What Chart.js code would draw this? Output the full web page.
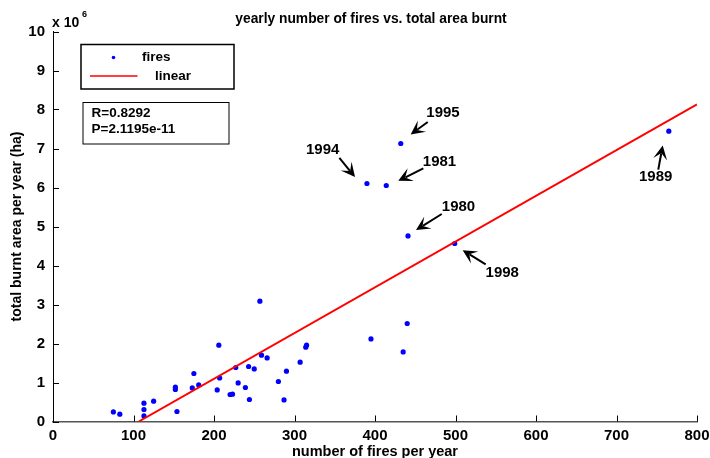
<!DOCTYPE html>
<html><head><meta charset="utf-8">
<script src="https://cdn.jsdelivr.net/npm/chart.js@4"></script>
<style>html,body{margin:0;padding:0;background:#fff}</style>
</head><body>
<canvas id="c" width="710" height="458"></canvas>
<script>
// number of fires per year
const fires = [75, 83, 113, 113, 113, 125, 154, 152, 152, 173, 175, 181, 204, 206, 207, 227, 220, 223, 230, 239, 244, 243, 250, 257, 259, 266, 280, 287, 290, 307, 314, 315, 395, 440, 435, 432, 390, 414, 441, 499, 765];
// total burnt area per year (ha)
const burnt = [246000, 187000, 469000, 308000, 144000, 520000, 256000, 879000, 821000, 862000, 1231000, 938000, 810000, 1956000, 1118000, 1385000, 692000, 700000, 990000, 872000, 564000, 1410000, 1349000, 3085000, 1700000, 1631000, 1026000, 554000, 1290000, 1521000, 1905000, 1956000, 2118000, 2513000, 1785000, 7128000, 6103000, 6051000, 4759000, 4564000, 7444000];
// linear fit endpoints
const fitX = [106.5, 800];
const fitY = [0, 8130000];
// axis ticks
const xTicks = [0, 100, 200, 300, 400, 500, 600, 700, 800];
const yTicks = [0, 1e6, 2e6, 3e6, 4e6, 5e6, 6e6, 7e6, 8e6, 9e6, 1e7];
// annotated years
const annYears = ['1995', '1994', '1981', '1980', '1998', '1989'];
const annTextX = [484.5, 335, 480.1, 503.7, 558.1, 748.7];
const annTextY = [7.91e6, 6.96e6, 6.67e6, 5.50e6, 3.82e6, 6.27e6];
const annFromX = [465.5, 355.7, 460, 482.9, 537.5, 751.9];
const annFromY = [7.68e6, 6.76e6, 6.49e6, 5.32e6, 4.03e6, 6.46e6];
const annTipX = [444.3, 375.2, 428.9, 450.9, 508.9, 757.4];
const annTipY = [7.36e6, 6.27e6, 6.17e6, 4.91e6, 4.39e6, 7.08e6];
const statR = 'R=0.8292';
const statP = 'P=2.1195e-11';

const FONT = '"Liberation Sans", Arial, Helvetica, sans-serif';

function arrow(ctx, x1, y1, x2, y2) {
  const ang = Math.atan2(y2 - y1, x2 - x1);
  const L = 14, W = 7;
  ctx.save();
  ctx.strokeStyle = '#000'; ctx.fillStyle = '#000'; ctx.lineWidth = 2;
  ctx.beginPath();
  ctx.moveTo(x1, y1);
  ctx.lineTo(x2 - Math.cos(ang) * 8, y2 - Math.sin(ang) * 8);
  ctx.stroke();
  ctx.translate(x2, y2); ctx.rotate(ang);
  ctx.beginPath();
  ctx.moveTo(0, 0);
  ctx.lineTo(-L, -W);
  ctx.lineTo(-L * 0.55, 0);
  ctx.lineTo(-L, W);
  ctx.closePath();
  ctx.fill();
  ctx.restore();
}

const deco = {
  id: 'deco',
  afterDraw(chart) {
    const ctx = chart.ctx, xs = chart.scales.x, ys = chart.scales.y;
    const a = chart.chartArea;
    ctx.save();
    // inward ticks
    ctx.strokeStyle = '#000'; ctx.lineWidth = 1;
    xTicks.forEach(v => {
      const p = Math.round(xs.getPixelForValue(v)) + 0.5;
      ctx.beginPath(); ctx.moveTo(p, a.bottom); ctx.lineTo(p, a.bottom - 6); ctx.stroke();
    });
    yTicks.forEach(v => {
      const p = Math.round(ys.getPixelForValue(v)) + 0.5;
      ctx.beginPath(); ctx.moveTo(a.left, p); ctx.lineTo(a.left + 6, p); ctx.stroke();
    });
    // title
    ctx.fillStyle = '#000';
    ctx.font = 'bold 13.8px ' + FONT;
    ctx.textAlign = 'center'; ctx.textBaseline = 'middle';
    ctx.fillText('yearly number of fires vs. total area burnt', 371, 19);
    // multiplier
    ctx.textAlign = 'left';
    ctx.font = 'bold 14px ' + FONT;
    ctx.fillText('x 10', 52, 23);
    ctx.font = 'bold 9px ' + FONT;
    ctx.fillText('6', 82, 15);
    // legend box
    ctx.lineWidth = 1.5; ctx.strokeStyle = '#000';
    ctx.fillStyle = '#fff';
    ctx.fillRect(81, 44.5, 153, 44.5);
    ctx.strokeRect(81, 44.5, 153, 44.5);
    ctx.fillStyle = '#0000ff';
    ctx.beginPath(); ctx.arc(113.5, 57.5, 1.8, 0, Math.PI * 2); ctx.fill();
    ctx.strokeStyle = '#ff0000'; ctx.lineWidth = 1.5;
    ctx.beginPath(); ctx.moveTo(90, 76); ctx.lineTo(137.5, 76); ctx.stroke();
    ctx.fillStyle = '#000';
    ctx.font = 'bold 13.5px ' + FONT;
    ctx.textBaseline = 'middle';
    ctx.fillText('fires', 142, 57);
    ctx.fillText('linear', 155, 76);
    // stats box
    ctx.strokeStyle = '#000'; ctx.lineWidth = 1;
    ctx.strokeRect(83, 102.5, 146, 41.5);
    ctx.fillText(statR, 91.5, 113.5);
    ctx.fillText(statP, 91.5, 129);
    // annotations
    ctx.font = 'bold 15px ' + FONT;
    ctx.textAlign = 'center';
    annYears.forEach((t, i) => {
      ctx.fillStyle = '#000';
      ctx.fillText(t, xs.getPixelForValue(annTextX[i]), ys.getPixelForValue(annTextY[i]));
      arrow(ctx, xs.getPixelForValue(annFromX[i]), ys.getPixelForValue(annFromY[i]),
                 xs.getPixelForValue(annTipX[i]), ys.getPixelForValue(annTipY[i]));
    });
    ctx.restore();
  }
};

new Chart(document.getElementById('c'), {
  type: 'scatter',
  data: {
    datasets: [
      {
        label: 'fires',
        data: fires.map((x, i) => ({ x, y: burnt[i] })),
        pointRadius: 2.6, pointHoverRadius: 2.6,
        backgroundColor: '#0000ff', borderWidth: 0, order: 2
      },
      {
        label: 'linear', type: 'line',
        data: fitX.map((x, i) => ({ x, y: fitY[i] })),
        borderColor: '#ff0000', borderWidth: 2, pointRadius: 0, fill: false, order: 1
      }
    ]
  },
  options: {
    responsive: false, animation: false, events: [],
    layout: { padding: { top: 31.5, right: 13, left: 0, bottom: 0 } },
    plugins: { legend: { display: false }, tooltip: { enabled: false }, title: { display: false } },
    scales: {
      x: {
        type: 'linear', min: 0, max: 800,
        afterBuildTicks(s) { s.ticks = xTicks.map(v => ({ value: v })); },
        ticks: { color: '#000', padding: 5, font: { family: FONT, size: 15, weight: 'bold' }, maxRotation: 0 },
        grid: { display: true, drawOnChartArea: false, drawTicks: false },
        border: { display: true, color: '#555', width: 1.5 },
        title: { display: true, text: 'number of fires per year', color: '#000', padding: 0, font: { family: FONT, size: 14.5, weight: 'bold', lineHeight: 0.8 } },
        afterFit(s) { s.height = 36.5; s.paddingLeft = 0; s.paddingRight = 0; }
      },
      y: {
        type: 'linear', min: 0, max: 1e7,
        afterBuildTicks(s) { s.ticks = yTicks.map(v => ({ value: v })); },
        ticks: { color: '#000', padding: 8, font: { family: FONT, size: 15, weight: 'bold' }, callback: v => String(v / 1e6) },
        grid: { display: true, drawOnChartArea: false, drawTicks: false },
        border: { display: true, color: '#000', width: 1 },
        title: { display: true, text: 'total burnt area per year (ha)', color: '#000', padding: { top: 9, bottom: 0 }, font: { family: FONT, size: 14, weight: 'bold' } },
        afterFit(s) { s.width = 53; }
      }
    }
  },
  plugins: [deco]
});
</script>
</body></html>
